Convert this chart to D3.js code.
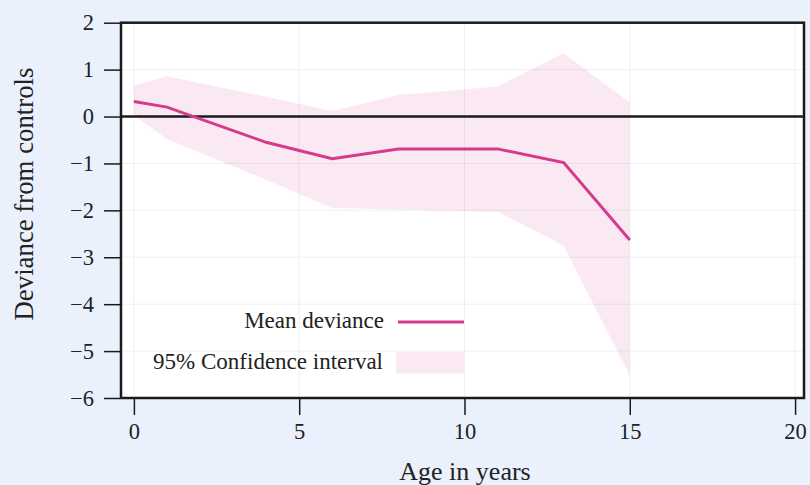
<!DOCTYPE html>
<html>
<head>
<meta charset="utf-8">
<script src="https://cdn.jsdelivr.net/npm/d3@7"></script>
<style>
  html, body { margin: 0; padding: 0; background: #ebf1fc; }
  svg { display: block; }
  text { font-family: "Liberation Serif", "Times New Roman", serif; fill: #222; }
  .tick text { font-size: 22.5px !important; font-family: "Liberation Serif", serif !important; }
</style>
</head>
<body>
<script>
// ---- data ----
const ages = [0, 1, 4, 6, 8, 11, 13, 15];
const meanDeviance = [0.32, 0.2, -0.55, -0.9, -0.69, -0.69, -0.98, -2.63];
const ciUpper = [0.66, 0.86, 0.42, 0.12, 0.46, 0.64, 1.35, 0.3];
const ciLower = [0.02, -0.48, -1.35, -1.95, -1.98, -2.03, -2.75, -5.53];
const xTicks = [0, 5, 10, 15, 20];
const yTicks = [-6, -5, -4, -3, -2, -1, 0, 1, 2];
const legendLabels = ["Mean deviance", "95% Confidence interval"];
const xTitle = "Age in years";
const yTitle = "Deviance from controls";

const W = 810, H = 485;
const lineColor = "#d63a8c";

const svg = d3.select("body").append("svg").attr("width", W).attr("height", H);
svg.append("rect").attr("width", W).attr("height", H).attr("fill", "#ebf1fc");

const x = d3.scaleLinear().domain([-0.39, 20.27]).range([121, 804]);
const y = d3.scaleLinear().domain([-6, 2]).range([398, 22.7]);

// plot background
svg.append("rect")
  .attr("x", x.range()[0]).attr("y", y.range()[1])
  .attr("width", x.range()[1] - x.range()[0])
  .attr("height", y.range()[0] - y.range()[1])
  .attr("fill", "#ffffff");

// grid
const grid = svg.append("g");
grid.selectAll("line.gx").data(xTicks).enter().append("line")
  .attr("x1", d => x(d)).attr("x2", d => x(d))
  .attr("y1", y.range()[1]).attr("y2", y.range()[0])
  .attr("stroke", "#eeeff6").attr("stroke-width", 1);
grid.selectAll("line.gy").data(yTicks).enter().append("line")
  .attr("y1", d => y(d)).attr("y2", d => y(d))
  .attr("x1", x.range()[0]).attr("x2", x.range()[1])
  .attr("stroke", "#eeeff6").attr("stroke-width", 1);

// confidence band
const pts = ages.map((a, i) => ({a, m: meanDeviance[i], lo: ciLower[i], hi: ciUpper[i]}));
const area = d3.area().x(d => x(d.a)).y0(d => y(d.lo)).y1(d => y(d.hi));
svg.append("path").datum(pts).attr("d", area)
  .attr("fill", lineColor).attr("fill-opacity", 0.11);

// zero line
svg.append("line")
  .attr("x1", x.range()[0]).attr("x2", x.range()[1])
  .attr("y1", y(0)).attr("y2", y(0))
  .attr("stroke", "#1a1a1a").attr("stroke-width", 2.5);

// mean line
const line = d3.line().x(d => x(d.a)).y(d => y(d.m));
svg.append("path").datum(pts).attr("d", line)
  .attr("fill", "none").attr("stroke", lineColor).attr("stroke-width", 3)
  .attr("stroke-linejoin", "miter");

// border
svg.append("rect")
  .attr("x", x.range()[0]).attr("y", y.range()[1])
  .attr("width", x.range()[1] - x.range()[0])
  .attr("height", y.range()[0] - y.range()[1])
  .attr("fill", "none").attr("stroke", "#1a1a1a").attr("stroke-width", 2.5);

// axes
const xAxis = svg.append("g").attr("transform", `translate(0,${y.range()[0] + 1})`)
  .call(d3.axisBottom(x).tickValues(xTicks).tickSize(16).tickPadding(8)
    .tickFormat(d3.format("d")));
xAxis.select(".domain").remove();
xAxis.selectAll(".tick line").attr("stroke", "#1a1a1a").attr("stroke-width", 1.5);
xAxis.selectAll(".tick text").attr("fill", "#222");

const fmtY = d => d < 0 ? "\u2212" + Math.abs(d) : String(d);
const yAxis = svg.append("g").attr("transform", `translate(${x.range()[0] - 1},0)`)
  .call(d3.axisLeft(y).tickValues(yTicks).tickSize(16).tickPadding(10).tickFormat(fmtY));
yAxis.select(".domain").remove();
yAxis.selectAll(".tick line").attr("stroke", "#1a1a1a").attr("stroke-width", 1.5);
yAxis.selectAll(".tick text").attr("fill", "#222");

// titles
svg.append("text").attr("x", 465).attr("y", 480)
  .attr("text-anchor", "middle").style("font-size", "26px").text(xTitle);
svg.append("text")
  .attr("transform", `translate(33,194) rotate(-90)`)
  .attr("text-anchor", "middle").style("font-size", "26.8px").text(yTitle);

// legend
const lg = svg.append("g");
lg.append("text").attr("x", 384).attr("y", 328).attr("text-anchor", "end")
  .style("font-size", "23px").text(legendLabels[0]);
lg.append("line").attr("x1", 398).attr("x2", 464).attr("y1", 322).attr("y2", 322)
  .attr("stroke", lineColor).attr("stroke-width", 3);
lg.append("text").attr("x", 383).attr("y", 369).attr("text-anchor", "end")
  .style("font-size", "23px").text(legendLabels[1]);
lg.append("rect").attr("x", 396).attr("y", 352).attr("width", 68).attr("height", 21.5)
  .attr("fill", lineColor).attr("fill-opacity", 0.11);
</script>
</body>
</html>
